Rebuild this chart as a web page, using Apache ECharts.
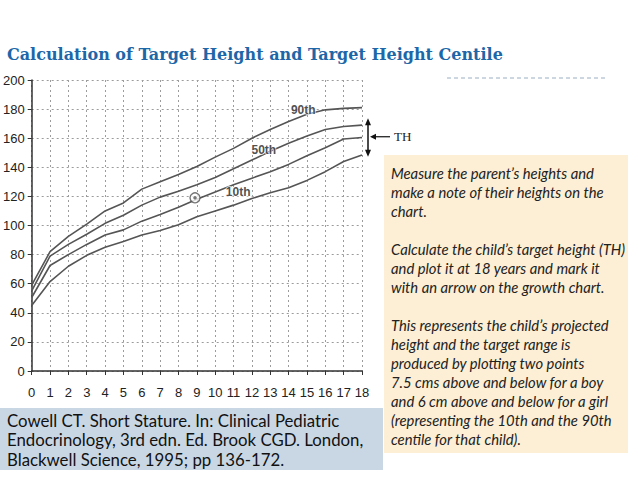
<!DOCTYPE html>
<html><head><meta charset="utf-8">
<script src="https://cdn.jsdelivr.net/npm/echarts@6/dist/echarts.min.js"></script>
<style>html,body{margin:0;padding:0;background:#fff}#c{width:638px;height:479px}</style>
</head><body><div id="c"></div>
<script>
// ---- data ----
const ages = [0,1,2,3,4,5,6,7,8,9,10,11,12,13,14,15,16,17,18];
const centile90 = [59, 82, 92.5, 101, 110, 115.5, 125, 130, 135, 140.5, 147, 153, 160, 166, 171.5, 176.5, 179.5, 180.5, 181];
const centile50 = [55, 79, 87, 94, 101.5, 107, 114, 119.5, 123.5, 128, 133, 139, 145, 151, 156.5, 161.5, 166, 168, 169];
const centile10 = [50.5, 72.5, 80, 87, 93.5, 97, 103, 107.5, 112.5, 118, 123, 128, 132.5, 137, 142, 148, 153.5, 159.5, 160.5];
const centileLow = [45, 61.5, 72, 79.5, 85, 89, 93.5, 96.5, 100.5, 106, 110, 114, 118.5, 122.5, 126, 131, 137, 144, 148.5];
const centileLabelTexts = ['90th', '50th', '10th'];
const centileLabelAges = [14.8, 12.65, 11.25];
const centileLabelHeights = [179.5, 152, 123.3];
const childAge = 8.9, childHeight = 119;
const targetHeight = 161, targetUpper = 173, targetLower = 148;
const xTicks = [0, 18, 1];   // min, max, step
const yTicks = [0, 200, 20];

const titleText = 'Calculation of Target Height and Target Height Centile';
const noteLines = [
  'Measure the parent\u2019s heights and',
  'make a note of their heights on the',
  'chart.',
  '',
  'Calculate the child\u2019s target height (TH)',
  'and plot it at 18 years and mark it',
  'with an arrow on the growth chart.',
  '',
  'This represents the child\u2019s projected',
  'height and the target range is',
  'produced by plotting two points',
  '7.5 cms above and below for a boy',
  'and 6 cm above and below for a girl',
  '(representing the 10th and the 90th',
  'centile for that child).'
];
const citationLines = [
  'Cowell CT. Short Stature. In: Clinical Pediatric',
  'Endocrinology, 3rd edn. Ed. Brook CGD. London,',
  'Blackwell Science, 1995; pp 136-172.'
];

// ---- chart ----
const chart = echarts.init(document.getElementById('c'), null, {renderer: 'svg'});
const curveColor = '#555';
function curve(name, vals) {
  return {type: 'line', name: name, data: ages.map((a, i) => [a, vals[i]]), symbol: 'none',
    lineStyle: {color: curveColor, width: 1.6}, silent: true, z: 3};
}
const gridLine = {show: true, lineStyle: {type: [2, 3], color: '#9c9c9c', width: 1}};
const option = {
  animation: false,
  grid: {left: 29, right: 276, top: 80, bottom: 108},
  xAxis: {type: 'value', min: xTicks[0], max: xTicks[1], interval: xTicks[2],
    axisLine: {onZero: false, lineStyle: {color: '#333', width: 1.5}},
    axisTick: {length: 4, lineStyle: {color: '#333'}},
    axisLabel: {fontFamily: 'Liberation Sans', fontSize: 13, color: '#222', margin: 15},
    splitLine: gridLine},
  yAxis: {type: 'value', min: yTicks[0], max: yTicks[1], interval: yTicks[2],
    axisLine: {show: true, lineStyle: {color: '#333', width: 1.5}},
    axisTick: {show: true, length: 4, lineStyle: {color: '#333'}},
    axisLabel: {fontFamily: 'Liberation Sans', fontSize: 13, color: '#222', margin: 7},
    splitLine: gridLine},
  series: [
    curve('90th', centile90),
    curve('50th', centile50),
    curve('10th', centile10),
    curve('low', centileLow),
    {type: 'scatter', data: [[childAge, childHeight]], symbol: 'circle', symbolSize: 10,
      itemStyle: {color: '#fff', borderColor: '#555', borderWidth: 1.4}, z: 5, silent: true},
    {type: 'scatter', data: [[childAge, childHeight]], symbol: 'circle', symbolSize: 3.5,
      itemStyle: {color: '#555'}, z: 6, silent: true},
    {type: 'scatter', symbolSize: 0, z: 7, silent: true,
      data: centileLabelTexts.map((t, i) => ({value: [centileLabelAges[i], centileLabelHeights[i]], name: t})),
      label: {show: true, position: 'inside', formatter: p => p.name, fontFamily: 'Liberation Sans',
        fontWeight: 'bold', fontSize: 12, color: '#222', textBorderColor: '#fff', textBorderWidth: 1.5}}
  ]
};
chart.setOption(option);

// annotations positioned through the chart's own scales
const pTop = chart.convertToPixel({gridIndex: 0}, [18, targetUpper]);
const pBot = chart.convertToPixel({gridIndex: 0}, [18, targetLower]);
const pTH = chart.convertToPixel({gridIndex: 0}, [18, targetHeight]);
const ax = pTop[0] + 6;
const graphics = [
  {type: 'line', shape: {x1: ax, y1: pTop[1] + 3, x2: ax, y2: pBot[1] - 3}, style: {stroke: '#111', lineWidth: 1.5}},
  {type: 'polygon', shape: {points: [[ax, pTop[1] - 1], [ax - 3, pTop[1] + 6], [ax + 3, pTop[1] + 6]]}, style: {fill: '#111'}},
  {type: 'polygon', shape: {points: [[ax, pBot[1] + 1], [ax - 3, pBot[1] - 6], [ax + 3, pBot[1] - 6]]}, style: {fill: '#111'}},
  {type: 'line', shape: {x1: ax + 6, y1: pTH[1], x2: ax + 22, y2: pTH[1]}, style: {stroke: '#111', lineWidth: 1.2}},
  {type: 'polygon', shape: {points: [[ax + 2, pTH[1]], [ax + 8, pTH[1] - 3], [ax + 8, pTH[1] + 3]]}, style: {fill: '#111'}},
  {type: 'text', x: ax + 26, y: pTH[1], style: {text: 'TH', fontFamily: 'Liberation Serif', fontSize: 13, fill: '#222', verticalAlign: 'middle'}},
  // title
  {type: 'text', x: 7, y: 54, style: {text: titleText, fontFamily: 'DejaVu Serif', fontWeight: 'bold', fontSize: 16, fill: '#1D67A8', verticalAlign: 'middle'}},
  {type: 'line', shape: {x1: 447, y1: 78, x2: 607, y2: 78}, style: {stroke: '#9aaec2', lineWidth: 1, lineDash: [4, 3]}},
  // note box
  {type: 'rect', shape: {x: 384, y: 155, width: 244, height: 298}, style: {fill: '#FCEFD5'}, z: -1},
  {type: 'text', x: 391, y: 163, style: {text: noteLines.join('\n'), fontFamily: 'Lato', fontStyle: 'italic', fontSize: 14.8, lineHeight: 19, fill: '#222'}},
  // citation box
  {type: 'rect', shape: {x: 0, y: 408, width: 383, height: 62}, style: {fill: '#C9D7E5'}, z: -1},
  {type: 'text', x: 7, y: 411, style: {text: citationLines.join('\n'), fontFamily: 'Lato', fontSize: 16.8, lineHeight: 19.2, fill: '#111'}}
];
chart.setOption({graphic: graphics});
</script></body></html>
